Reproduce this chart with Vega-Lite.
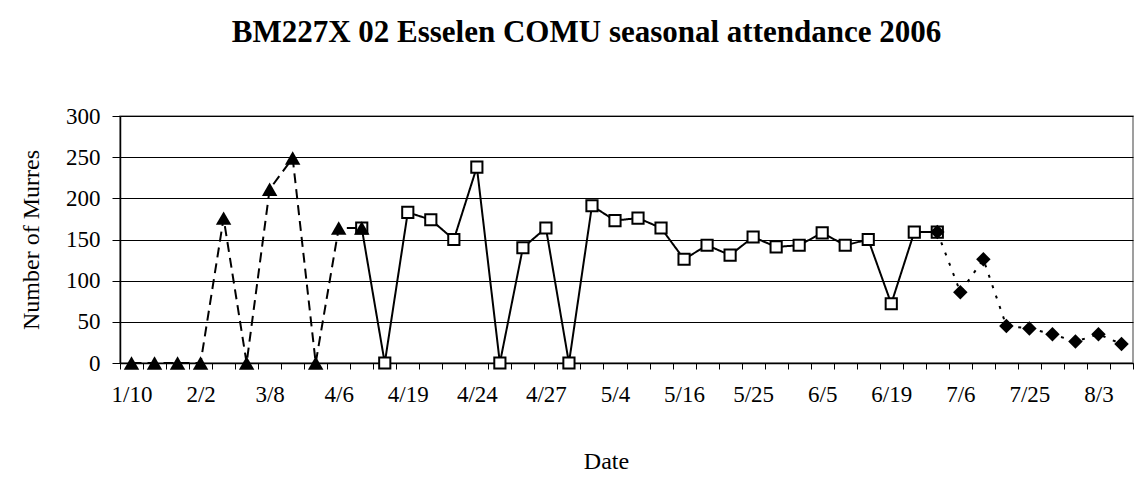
{
  "$schema": "https://vega.github.io/schema/vega-lite/v6.json",
  "autosize": "none",
  "width": 1013,
  "height": 247,
  "padding": {"left": 120, "top": 116, "right": 14, "bottom": 117},
  "background": "white",
  "config": {
    "font": "Liberation Serif",
    "view": {"stroke": "#808080", "strokeWidth": 1.5},
    "axis": {"labelFont": "Liberation Serif", "titleFont": "Liberation Serif", "labelColor": "black", "titleColor": "black", "titleFontWeight": "normal", "domainColor": "black", "tickColor": "black"}
  },
  "title": {
    "text": "BM227X 02 Esselen COMU seasonal attendance 2006",
    "font": "Liberation Serif",
    "fontSize": 31,
    "fontWeight": "bold",
    "color": "black",
    "anchor": "middle",
    "frame": "group",
    "dx": -40,
    "offset": 56
  },
  "data": {
    "values": [
      {"date": "1/10", "series": "pre", "count": 0},
      {"date": "1/17", "series": "pre", "count": 0},
      {"date": "1/25", "series": "pre", "count": 0},
      {"date": "2/2", "series": "pre", "count": 0},
      {"date": "2/15", "series": "pre", "count": 176},
      {"date": "2/24", "series": "pre", "count": 0},
      {"date": "3/8", "series": "pre", "count": 211},
      {"date": "3/15", "series": "pre", "count": 249},
      {"date": "3/27", "series": "pre", "count": 0},
      {"date": "4/6", "series": "pre", "count": 164},
      {"date": "4/10", "series": "pre", "count": 164},
      {"date": "4/10", "series": "season", "count": 164},
      {"date": "4/15", "series": "season", "count": 0},
      {"date": "4/19", "series": "season", "count": 183},
      {"date": "4/21", "series": "season", "count": 174},
      {"date": "4/22", "series": "season", "count": 150},
      {"date": "4/24", "series": "season", "count": 238},
      {"date": "4/25", "series": "season", "count": 0},
      {"date": "4/26", "series": "season", "count": 140},
      {"date": "4/27", "series": "season", "count": 164},
      {"date": "4/29", "series": "season", "count": 0},
      {"date": "5/1", "series": "season", "count": 191},
      {"date": "5/4", "series": "season", "count": 173},
      {"date": "5/8", "series": "season", "count": 176},
      {"date": "5/12", "series": "season", "count": 164},
      {"date": "5/16", "series": "season", "count": 126},
      {"date": "5/19", "series": "season", "count": 143},
      {"date": "5/22", "series": "season", "count": 131},
      {"date": "5/25", "series": "season", "count": 153},
      {"date": "5/29", "series": "season", "count": 141},
      {"date": "6/1", "series": "season", "count": 143},
      {"date": "6/5", "series": "season", "count": 158},
      {"date": "6/9", "series": "season", "count": 143},
      {"date": "6/14", "series": "season", "count": 150},
      {"date": "6/19", "series": "season", "count": 72},
      {"date": "6/24", "series": "season", "count": 159},
      {"date": "6/29", "series": "season", "count": 159},
      {"date": "6/29", "series": "post", "count": 159},
      {"date": "7/6", "series": "post", "count": 86},
      {"date": "7/12", "series": "post", "count": 126},
      {"date": "7/19", "series": "post", "count": 45},
      {"date": "7/25", "series": "post", "count": 42},
      {"date": "7/28", "series": "post", "count": 35},
      {"date": "7/31", "series": "post", "count": 26},
      {"date": "8/3", "series": "post", "count": 35},
      {"date": "8/8", "series": "post", "count": 23}
    ]
  },
  "encoding": {
    "x": {
      "field": "date",
      "type": "ordinal",
      "sort": null,
      "scale": {"type": "band", "paddingInner": 0, "paddingOuter": 0},
      "axis": {
        "title": "Date",
        "titleFontSize": 24,
        "titleX": 486,
        "titleY": 105,
        "titleBaseline": "alphabetic",
        "labelAngle": 0,
        "labelFontSize": 23,
        "labelBaseline": "alphabetic",
        "labelPadding": 32,
        "labelOverlap": false,
        "labelExpr": "indexof(['1/10','2/2','3/8','4/6','4/19','4/24','4/27','5/4','5/16','5/25','6/5','6/19','7/6','7/25','8/3'], datum.value) >= 0 ? datum.label : ''",
        "tickBand": "extent",
        "tickSize": 6,
        "grid": false,
        "domainWidth": 1.5
      }
    },
    "y": {
      "field": "count",
      "type": "quantitative",
      "scale": {"domain": [0, 300], "nice": false},
      "axis": {
        "title": "Number of Murres",
        "titleFontSize": 24,
        "titleX": -82,
        "titleY": 123.5,
        "titleAngle": -90,
        "titleAlign": "center",
        "titleBaseline": "alphabetic",
        "values": [0, 50, 100, 150, 200, 250, 300],
        "labelFontSize": 23,
        "tickSize": 8,
        "labelPadding": 12,
        "grid": true,
        "gridColor": "black",
        "gridWidth": 1,
        "domainWidth": 1.5
      }
    }
  },
  "layer": [
    {
      "mark": {"type": "line", "color": "black", "strokeWidth": 2},
      "encoding": {
        "detail": {"field": "series"},
        "strokeDash": {
          "field": "series",
          "type": "nominal",
          "scale": {"domain": ["pre", "season", "post"], "range": [[10, 6], [1, 0], [3, 8]]},
          "legend": null
        }
      }
    },
    {
      "transform": [{"filter": "datum.series == 'season'"}],
      "mark": {"type": "point", "shape": "square", "size": 125, "filled": false, "fill": "white", "fillOpacity": 1, "stroke": "black", "strokeWidth": 2, "opacity": 1}
    },
    {
      "transform": [{"filter": "datum.series == 'pre'"}],
      "mark": {"type": "point", "shape": "triangle-up", "size": 240, "filled": true, "color": "black", "opacity": 1}
    },
    {
      "transform": [{"filter": "datum.series == 'post'"}],
      "mark": {"type": "point", "shape": "diamond", "size": 210, "filled": true, "color": "black", "opacity": 1}
    }
  ]
}
